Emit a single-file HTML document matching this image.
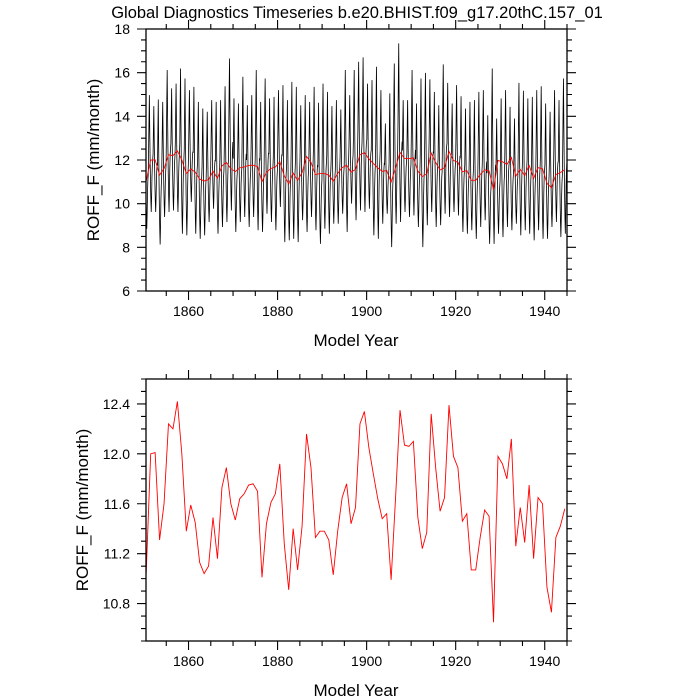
<!DOCTYPE html>
<html><head><meta charset="utf-8">
<style>
html,body{margin:0;padding:0;background:#fff;}
svg{display:block;font-family:"Liberation Sans",Arial,sans-serif;}
</style></head>
<body>
<svg id="chart" width="700" height="700" viewBox="0 0 700 700">
<text x="357" y="18" text-anchor="middle" font-size="16.5">Global Diagnostics Timeseries b.e20.BHIST.f09_g17.20thC.157_01</text>
<g id="top"></g>
<g id="bot"></g>
</svg>
<script>
// ---- data ----
const annualMean = [11.05,12.0,12.01,11.31,11.6,12.24,12.2,12.42,12.0,11.38,11.59,11.45,11.13,11.04,11.1,11.49,11.16,11.73,11.89,11.6,11.47,11.64,11.68,11.75,11.76,11.7,11.01,11.44,11.61,11.68,11.92,11.28,10.91,11.4,11.07,11.42,12.16,11.89,11.33,11.38,11.38,11.31,11.03,11.38,11.65,11.76,11.44,11.57,12.24,12.34,12.05,11.84,11.64,11.48,11.52,10.99,11.65,12.35,12.07,12.06,12.1,11.49,11.24,11.37,12.32,11.89,11.54,11.65,12.39,11.98,11.89,11.46,11.52,11.07,11.07,11.33,11.55,11.5,10.65,11.98,11.92,11.8,12.12,11.26,11.57,11.29,11.75,11.16,11.65,11.6,10.93,10.73,11.33,11.42,11.56];
const yearlyPeak = [14.47,14.97,14.47,14.77,14.66,16.12,15.28,15.50,16.19,15.73,15.20,15.35,14.66,14.36,14.21,14.74,14.66,14.74,15.38,16.65,14.82,14.59,15.81,14.51,14.97,16.12,14.66,15.73,14.82,14.89,15.20,15.43,14.74,15.58,15.35,14.51,14.97,14.66,15.35,14.62,15.50,15.12,14.47,14.74,14.31,16.12,14.97,16.12,16.50,16.70,15.50,15.66,16.27,15.20,13.67,15.05,16.42,17.34,14.74,14.74,16.12,14.59,15.73,15.99,15.69,15.12,14.51,16.38,15.53,14.59,15.43,14.92,14.36,14.66,14.74,15.12,15.20,14.05,16.19,13.90,14.82,15.20,14.43,13.90,15.53,15.17,14.82,14.89,15.20,15.38,14.59,14.21,15.20,14.74,15.73];
const yearlyTrough = [8.85,9.62,9.62,8.13,9.39,9.62,9.69,9.62,8.62,8.55,10.08,8.62,8.39,8.55,9.16,9.77,8.62,8.93,9.16,9.69,8.70,9.16,9.39,8.93,9.39,8.78,8.70,9.54,9.16,8.78,9.85,8.24,8.32,8.39,8.24,9.24,8.70,9.39,8.78,8.16,8.85,8.62,9.08,9.08,9.54,8.70,10.0,9.24,9.69,9.62,9.77,8.55,8.39,9.08,9.54,8.01,9.08,9.16,9.62,9.39,9.46,8.93,8.01,9.01,9.62,8.93,9.01,9.54,9.39,9.62,9.46,8.70,8.62,8.78,8.39,8.93,9.24,8.16,8.16,8.62,8.47,8.93,8.78,9.08,8.55,8.78,8.62,8.32,8.78,8.39,8.39,8.93,9.16,8.47,8.62];
const seasonalShape = [0.55,0.8,1.0,0.7,0.45,0.25,0.1,0.0,0.12,0.3,0.4,0.45];
const firstYear = 1850.5;
const xTickLabels = [1860,1880,1900,1920,1940];
const topYTicks = [6,8,10,12,14,16,18];
const botYTicks = [10.8,11.2,11.6,12.0,12.4];

const NS = "http://www.w3.org/2000/svg";
function mk(tag, attrs, parent){const e=document.createElementNS(NS,tag);for(const k in attrs)e.setAttribute(k,attrs[k]);parent.appendChild(e);return e;}

function panel(g, top, bottom, ymin, ymax, yMajor, yMinor, yTicks, yDecimals, nameP){
  const L=146, R=567, xmin=1850.45, xmax=1945.0;
  const sx=v=>L+(v-xmin)/(xmax-xmin)*(R-L);
  const sy=v=>bottom-(v-ymin)/(ymax-ymin)*(bottom-top);
  // ticks
  let d="";
  for(let yr=1850; yr<=1945; yr+=5){
    if(yr<xmin) continue;
    const x=sx(yr), len=(yr%20===0)?9:5;
    d+=`M${x},${top}v${-len}M${x},${bottom}v${len}`;
  }
  const nY=Math.round((ymax-ymin)/yMinor)+1;
  for(let i=0;i<=nY;i++){
    const v=Math.ceil(ymin/yMinor-1e-6)*yMinor+i*yMinor;
    if(v>ymax+1e-6) break;
    const isMaj=Math.abs(v/yMajor-Math.round(v/yMajor))<1e-6;
    const y=sy(v), len=isMaj?9:5;
    d+=`M${L},${y}h${-len}M${R},${y}h${len}`;
  }
  const ticks=mk("path",{d:d,stroke:"#000","stroke-width":"1.1",fill:"none"},g);
  
  
  xTickLabels.forEach(yr=>{
    const t=mk("text",{x:sx(yr),y:bottom+25,"text-anchor":"middle","font-size":"14"},g);
    t.textContent=yr;
    
    
  });
  yTicks.forEach(v=>{
    const t=mk("text",{x:130,y:sy(v)+5,"text-anchor":"end","font-size":"14"},g);
    t.textContent=v.toFixed(yDecimals);
    
    
  });
  const xl=mk("text",{x:356,y:bottom+55,"text-anchor":"middle","font-size":"17"},g);
  xl.textContent="Model Year";
  
  
  const cy=(top+bottom)/2;
  const yl=mk("text",{x:0,y:0,"text-anchor":"middle","font-size":"17",transform:`translate(${yDecimals?88:99},${cy}) rotate(-90)`},g);
  yl.textContent="ROFF_F (mm/month)";
  
  
  return {sx,sy,L,R,top,bottom};
}

// top panel
const gt=document.getElementById('top');
const A=panel(gt,29,291,6,18,2,0.5,topYTicks,0,'top');
let pd="";
annualMean.forEach((m,k)=>{
  seasonalShape.forEach((w,j)=>{
    const v=yearlyTrough[k]+w*(yearlyPeak[k]-yearlyTrough[k]);
    const x=A.sx(firstYear+k-0.5+(j+0.5)/12), y=A.sy(v);
    pd+=(pd?"L":"M")+x.toFixed(2)+","+y.toFixed(2);
  });
});
const ml=mk("path",{d:pd,stroke:"#000","stroke-width":"0.8",fill:"none","clip-path":"url(#c1)"},gt);


let ad="";
annualMean.forEach((v,k)=>{ad+=(k?"L":"M")+A.sx(firstYear+k).toFixed(2)+","+A.sy(v).toFixed(2);});
const al=mk("path",{d:ad,stroke:"#f00","stroke-width":"0.9",fill:"none"},gt);


const f1=mk("rect",{x:A.L,y:A.top,width:A.R-A.L,height:A.bottom-A.top,fill:"none",stroke:"#000","stroke-width":"1.3"},gt);


const defs=mk("defs",{},document.getElementById('chart'));
const cp=mk("clipPath",{id:"c1"},defs);
mk("rect",{x:A.L,y:A.top,width:A.R-A.L,height:A.bottom-A.top},cp);

// bottom panel
const gb=document.getElementById('bot');
const B=panel(gb,379,641,10.5,12.6,0.4,0.1,botYTicks,1,'bottom');
let bd="";
annualMean.forEach((v,k)=>{bd+=(k?"L":"M")+B.sx(firstYear+k).toFixed(2)+","+B.sy(v).toFixed(2);});
const bl=mk("path",{d:bd,stroke:"#f00","stroke-width":"0.9",fill:"none"},gb);


const f2=mk("rect",{x:B.L,y:B.top,width:B.R-B.L,height:B.bottom-B.top,fill:"none",stroke:"#000","stroke-width":"1.3"},gb);


</script>
</body></html>
